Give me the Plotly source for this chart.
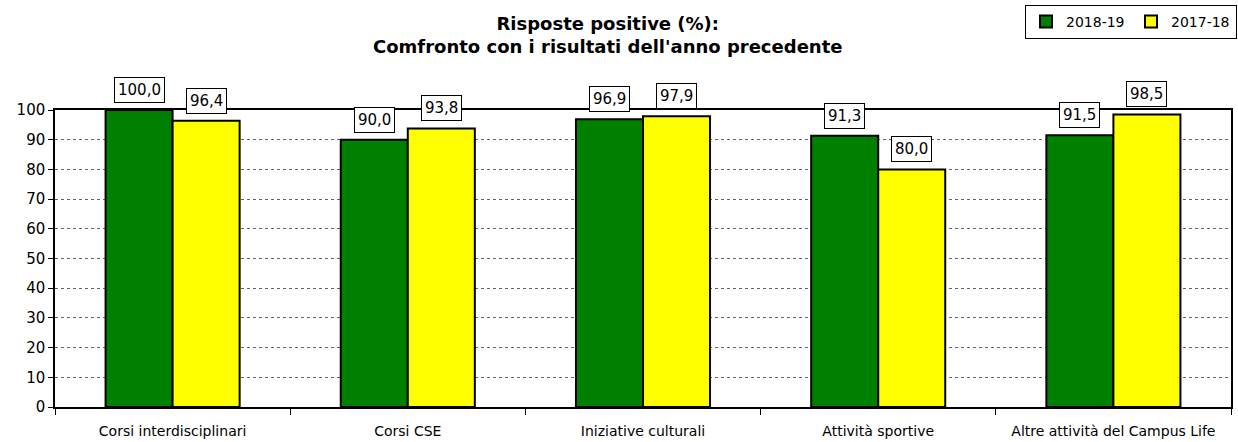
import plotly.graph_objects as go

categories = ["Corsi interdisciplinari", "Corsi CSE", "Iniziative culturali",
              "Attività sportive", "Altre attività del Campus Life"]
series_names = ["2018-19", "2017-18"]
values_2018_19 = [100.0, 90.0, 96.9, 91.3, 91.5]
values_2017_18 = [96.4, 93.8, 97.9, 80.0, 98.5]
colors = ["#008000", "#FFFF00"]
y_ticks = [0, 10, 20, 30, 40, 50, 60, 70, 80, 90, 100]

FONT = "DejaVu Sans"

fig = go.Figure()
for name, vals, col in zip(series_names, [values_2018_19, values_2017_18], colors):
    fig.add_trace(go.Bar(
        x=categories, y=vals, name=name,
        marker=dict(color=col, line=dict(color="black", width=2)),
    ))

annotations = []
for vals, shift in [(values_2018_19, -33.5), (values_2017_18, 33.5)]:
    for c, v in zip(categories, vals):
        annotations.append(dict(
            x=c, y=v, xref="x", yref="y", xshift=shift, yshift=7,
            yanchor="bottom", showarrow=False,
            text=f"{v:.1f}".replace(".", ","),
            font=dict(family=FONT, size=15, color="black"),
            bgcolor="white", bordercolor="black", borderwidth=1, borderpad=3,
        ))
annotations.append(dict(
    x=(607 - 55) / 1176, y=(407 - 35) / 297, xref="paper", yref="paper",
    yanchor="middle", xanchor="center",
    showarrow=False, align="center",
    text="<b>Risposte positive (%):</b><br><b>Comfronto con i risultati dell'anno precedente</b>",
    font=dict(family=FONT, size=18, color="black"),
))

fig.update_layout(
    width=1238, height=442,
    margin=dict(l=55, r=7, t=110, b=35, autoexpand=False),
    plot_bgcolor="white", paper_bgcolor="white",
    barmode="group", bargap=0.43, bargroupgap=0,
    font=dict(family=FONT, size=14, color="black"),
    showlegend=True,
    legend=dict(
        orientation="h", x=(1237 - 55) / 1176, xanchor="right",
        y=(407 - 5) / 297, yanchor="top",
        bordercolor="black", borderwidth=1, bgcolor="white",
        font=dict(family=FONT, size=14), itemwidth=30,
        entrywidth=60, tracegroupgap=0,
    ),
    annotations=annotations,
)
fig.update_xaxes(
    showline=True, linecolor="black", linewidth=1.5, mirror=True,
    ticks="outside", tickson="boundaries", ticklen=6, tickcolor="black",
    tickfont=dict(family=FONT, size=14), ticklabelstandoff=10,
)
fig.update_yaxes(
    range=[0, 100], tickvals=y_ticks,
    showline=True, linecolor="black", linewidth=1.5, mirror=True,
    ticks="outside", ticklen=5, tickcolor="black",
    showgrid=True, gridcolor="#666666", griddash="dot", gridwidth=1,
    tickfont=dict(family=FONT, size=15),
)

fig.write_html("out.html", config={"displayModeBar": False},
               post_script="document.body.style.margin='0';")
